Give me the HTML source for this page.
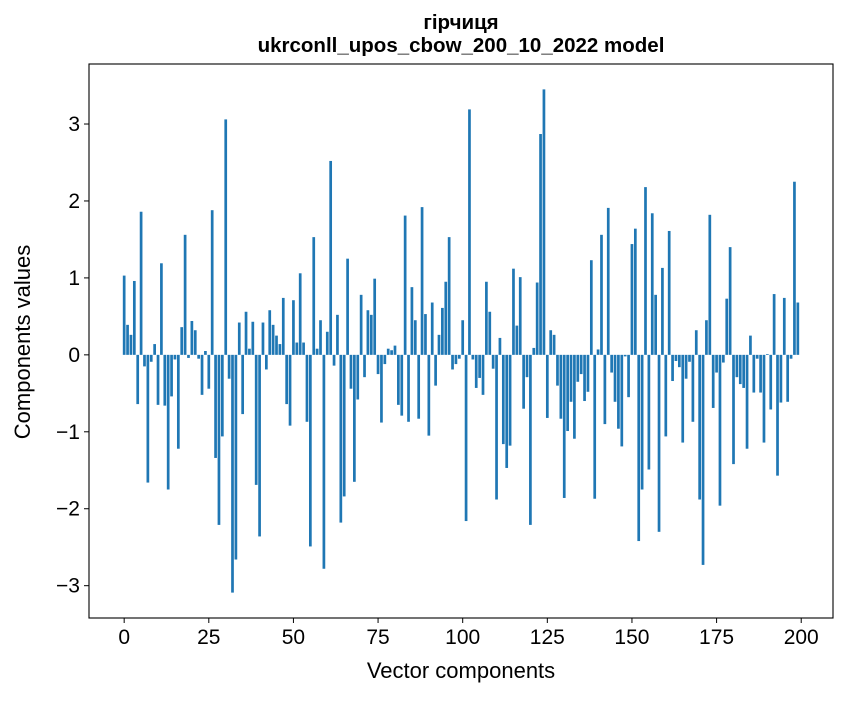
<!DOCTYPE html>
<html><head><meta charset="utf-8"><style>
body{margin:0;background:#fff;}
svg text{font-family:"Liberation Sans","DejaVu Sans",sans-serif;fill:#000;}
</style></head><body>
<svg width="847" height="696" viewBox="0 0 847 696">
<g id="bars"></g>
<g id="axes"></g>
<text x="461" y="29" font-size="20.5" font-weight="bold" text-anchor="middle">гірчиця</text>
<text x="461" y="52" font-size="20.5" font-weight="bold" text-anchor="middle">ukrconll_upos_cbow_200_10_2022 model</text>
<text x="461" y="678" font-size="22" text-anchor="middle">Vector components</text>
<text x="0" y="0" font-size="22" text-anchor="middle" transform="translate(30,342) rotate(-90)">Components values</text>
</svg>
<script>
const values = [1.03,0.39,0.26,0.96,-0.64,1.86,-0.15,-1.66,-0.09,0.14,
-0.65,1.19,-0.66,-1.75,-0.54,-0.06,-1.22,0.36,1.56,-0.04,
0.44,0.32,-0.05,-0.52,0.05,-0.44,1.88,-1.34,-2.21,-1.06,
3.06,-0.31,-3.09,-2.66,0.42,-0.77,0.56,0.08,0.43,-1.69,
-2.36,0.42,-0.19,0.58,0.39,0.25,0.14,0.74,-0.64,-0.92,
0.71,0.16,1.06,0.16,-0.87,-2.49,1.53,0.08,0.45,-2.78,
0.30,2.52,-0.14,0.52,-2.18,-1.84,1.25,-0.44,-1.65,-0.58,
0.78,-0.29,0.58,0.52,0.99,-0.25,-0.88,-0.12,0.08,0.06,
0.12,-0.65,-0.79,1.81,-0.87,0.88,0.45,-0.83,1.92,0.53,
-1.05,0.68,-0.40,0.26,0.61,0.95,1.53,-0.19,-0.12,-0.05,
0.45,-2.16,3.19,-0.06,-0.43,-0.30,-0.52,0.95,0.56,-0.18,
-1.88,0.22,-1.16,-1.47,-1.18,1.12,0.38,1.01,-0.70,-0.29,
-2.21,0.09,0.94,2.87,3.45,-0.82,0.32,0.26,-0.40,-0.83,
-1.86,-0.99,-0.61,-1.09,-0.35,-0.25,-0.60,-0.48,1.23,-1.87,
0.07,1.56,-0.90,1.91,-0.23,-0.61,-0.96,-1.19,-0.02,-0.55,
1.44,1.64,-2.42,-1.75,2.18,-1.49,1.84,0.78,-2.30,1.13,
-1.06,1.61,-0.34,-0.08,-0.16,-1.14,-0.31,-0.09,-0.87,0.32,
-1.88,-2.73,0.45,1.82,-0.69,-0.23,-1.96,-0.10,0.73,1.40,
-1.42,-0.29,-0.38,-0.43,-1.22,0.25,-0.49,-0.05,-0.49,-1.14,
0.01,-0.71,0.79,-1.57,-0.62,0.74,-0.61,-0.05,2.25,0.68];
const xTicks = [0,25,50,75,100,125,150,175,200];
const yTicks = [-3,-2,-1,0,1,2,3];
const L=89,R=833,T=64,B=618;
const xMin=-10.39,xMax=209.39,yMin=-3.42,yMax=3.78;
const sx=v=>L+(v-xMin)/(xMax-xMin)*(R-L);
const sy=v=>B-(v-yMin)/(yMax-yMin)*(B-T);
const NS="http://www.w3.org/2000/svg";
const bars=document.getElementById('bars');
values.forEach((v,i)=>{
  const r=document.createElementNS(NS,'rect');
  const x0=sx(i-0.4),x1=sx(i+0.4),y0=sy(Math.max(v,0)),y1=sy(Math.min(v,0));
  r.setAttribute('x',x0);r.setAttribute('width',x1-x0);
  r.setAttribute('y',y0);r.setAttribute('height',Math.max(y1-y0,0.01));
  r.setAttribute('fill','#1f77b4');
  
  
  bars.appendChild(r);
});
const ax=document.getElementById('axes');
const fr=document.createElementNS(NS,'rect');
fr.setAttribute('x',L);fr.setAttribute('y',T);fr.setAttribute('width',R-L);fr.setAttribute('height',B-T);
fr.setAttribute('fill','none');fr.setAttribute('stroke','#000');fr.setAttribute('stroke-width','1.1');


ax.appendChild(fr);
xTicks.forEach(t=>{
  const x=sx(t);
  const l=document.createElementNS(NS,'line');
  l.setAttribute('x1',x);l.setAttribute('x2',x);l.setAttribute('y1',B);l.setAttribute('y2',B+5);l.setAttribute('stroke','#000');
  
  
  ax.appendChild(l);
  const tx=document.createElementNS(NS,'text');
  tx.setAttribute('x',x);tx.setAttribute('y',B+26);tx.setAttribute('font-size','21');tx.setAttribute('text-anchor','middle');
  tx.textContent=t;
  
  
  ax.appendChild(tx);
});
yTicks.forEach(t=>{
  const y=sy(t);
  const l=document.createElementNS(NS,'line');
  l.setAttribute('x1',L-5);l.setAttribute('x2',L);l.setAttribute('y1',y);l.setAttribute('y2',y);l.setAttribute('stroke','#000');
  
  
  ax.appendChild(l);
  const tx=document.createElementNS(NS,'text');
  tx.setAttribute('x',L-9);tx.setAttribute('y',y+7);tx.setAttribute('font-size','21');tx.setAttribute('text-anchor','end');
  tx.textContent=t<0?'\u2212'+Math.abs(t):String(t);
  
  
  ax.appendChild(tx);
});
</script>
</body></html>
